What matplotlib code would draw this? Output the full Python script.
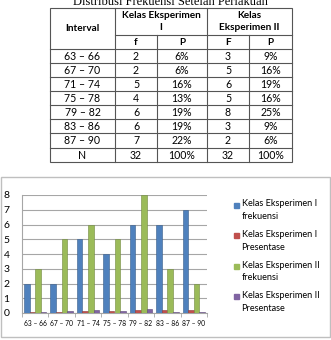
import numpy as np
import matplotlib
matplotlib.use("Agg")
import matplotlib.pyplot as plt
from matplotlib.patches import Rectangle

intervals = ["63 – 66", "67 – 70", "71 – 74", "75 – 78", "79 – 82", "83 – 86", "87 – 90"]
f1 = [2, 2, 5, 4, 6, 6, 7]
p1 = [6, 6, 16, 13, 19, 19, 22]
f2 = [3, 5, 6, 5, 8, 3, 2]
p2 = [9, 16, 19, 16, 25, 9, 6]
n_total = ["N", "32", "100%", "32", "100%"]
series_names = ["Kelas Eksperimen I\nfrekuensi", "Kelas Eksperimen I\nPresentase",
                "Kelas Eksperimen II\nfrekuensi", "Kelas Eksperimen II\nPresentase"]
colors = ["#4F81BD", "#C0504D", "#9BBB59", "#8064A2"]
edges = ["#385d8a", "#8c3836", "#71893f", "#5c4776"]

plt.rcParams['font.family'] = ['Lato', 'DejaVu Sans']

W, H = 331, 340
fig = plt.figure(figsize=(W / 100, H / 100), dpi=100)
fig.patch.set_facecolor("white")

# pixel overlay for the table
ax0 = fig.add_axes([0, 0, 1, 1])
ax0.set_xlim(0, W)
ax0.set_ylim(H, 0)
ax0.axis("off")

# caption is cut at the top edge, as in the source scan
ax0.text(170, 5, "Distribusi Frekuensi Setelah Perlakuan", ha="center", va="baseline",
         fontsize=9, family="Liberation Serif")

cx = [50, 115, 157, 207, 249, 292]
ry = [8, 35, 49, 63, 77, 91, 105, 119, 133, 148, 162]
lc = "#555555"
lw = 0.8
# outer box
ax0.add_patch(Rectangle((cx[0], ry[0]), cx[-1] - cx[0], ry[-1] - ry[0], fill=False, ec=lc, lw=lw))
# horizontal lines
ax0.plot([cx[1], cx[-1]], [ry[1], ry[1]], color=lc, lw=lw)
for y in ry[2:-1]:
    ax0.plot([cx[0], cx[-1]], [y, y], color=lc, lw=lw)
# vertical lines
for x in [cx[1], cx[3]]:
    ax0.plot([x, x], [ry[0], ry[-1]], color=lc, lw=lw)
for x in [cx[2], cx[4]]:
    ax0.plot([x, x], [ry[1], ry[-1]], color=lc, lw=lw)

fs = 7.6
fsb = 7.2
ax0.text((cx[0] + cx[1]) / 2, (ry[0] + ry[2]) / 2, "Interval", ha="center", va="center",
         fontsize=fsb, fontweight="bold")
ax0.text((cx[1] + cx[3]) / 2, (ry[0] + ry[1]) / 2, "Kelas Eksperimen\nI", ha="center",
         va="center", fontsize=fsb, fontweight="bold", linespacing=1.3)
ax0.text((cx[3] + cx[5]) / 2, (ry[0] + ry[1]) / 2, "Kelas\nEksperimen II", ha="center",
         va="center", fontsize=fsb, fontweight="bold", linespacing=1.3)
for j, s in enumerate(["f", "P", "F", "P"]):
    ax0.text((cx[j + 1] + cx[j + 2]) / 2, (ry[1] + ry[2]) / 2 + 0.5, s, ha="center",
             va="center", fontsize=fsb, fontweight="bold")

rows = [[intervals[i], str(f1[i]), f"{p1[i]}%", str(f2[i]), f"{p2[i]}%"] for i in range(len(intervals))]
rows.append(n_total)
for i, row in enumerate(rows):
    yc = (ry[i + 2] + ry[i + 3]) / 2 + 0.5
    for j, s in enumerate(row):
        ax0.text((cx[j] + cx[j + 1]) / 2, yc, s, ha="center", va="center", fontsize=fs)

# chart frame
ax0.add_patch(Rectangle((1, 177), 329, 160, fill=False, ec="#bfbfbf", lw=1))

# bar chart
ax = fig.add_axes([22 / W, (H - 313) / H, 185 / W, 118 / H])
x = np.arange(len(intervals))
vals = [f1, [v / 100 for v in p1], f2, [v / 100 for v in p2]]
bw = 0.21
offs = [-0.32, -0.11, 0.11, 0.32]
for k in range(4):
    ax.bar(x + offs[k], vals[k], width=bw, color=colors[k], edgecolor=edges[k], lw=0.4,
           label=series_names[k], zorder=3)

ax.set_ylim(0, 8)
ax.set_xlim(-0.45, 6.45)
ax.set_yticks(range(9))
ax.set_xticks(x)
ax.set_xticklabels(intervals, fontsize=4.9)
ax.set_xticks(np.arange(-0.5, 7, 1), minor=True)
ax.tick_params(axis="y", length=0, pad=9, labelsize=7.5)
ax.tick_params(axis="x", which="major", length=0, pad=5)
ax.tick_params(axis="x", which="minor", length=3, color="#a6a6a6")
ax.grid(axis="y", color="#a6a6a6", lw=0.8, zorder=0)
for s in ["top", "right"]:
    ax.spines[s].set_visible(False)
for s in ["left", "bottom"]:
    ax.spines[s].set_color("#a6a6a6")

# legend: square next to the first line of each two-line label
for k, name in enumerate(series_names):
    y0 = 205 + k * 30.5
    ax0.add_patch(Rectangle((234, y0 - 2.5), 5, 5, color=colors[k]))
    ax0.text(241.5, y0 - 5.5, name, ha="left", va="top", fontsize=6.6,
             linespacing=1.55)

fig.savefig("out.png", dpi=100)
